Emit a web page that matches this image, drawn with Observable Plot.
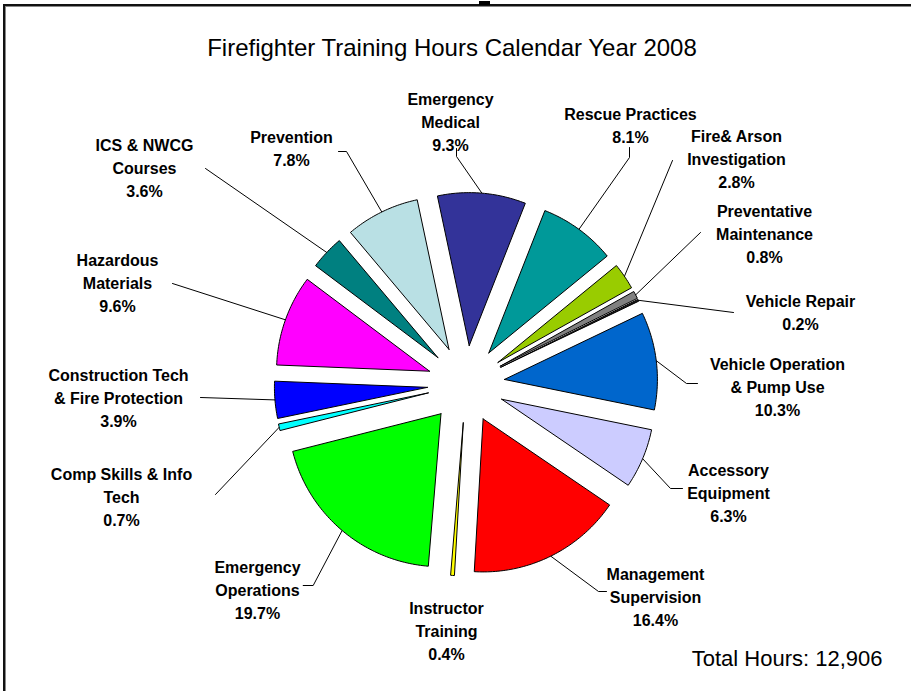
<!DOCTYPE html>
<html><head><meta charset="utf-8">
<script src="https://cdn.jsdelivr.net/npm/d3@7"></script>
<script src="https://cdn.jsdelivr.net/npm/@observablehq/plot@0.6"></script>
<style>
body{margin:0;background:#fff;font-family:"Liberation Sans",Arial,sans-serif;}
#wrap{position:relative;width:911px;height:691px;overflow:hidden;}
#frame{position:absolute;left:3px;top:4px;width:1000px;height:1000px;border-left:2px solid #111;border-top:2px solid #111;box-shadow:1px 1px 0 #888 inset;}
#tick{position:absolute;left:479px;top:1px;width:11px;height:4px;background:#000;}
#title{position:absolute;left:0;top:34.6px;width:904px;text-align:center;font-size:24px;line-height:26px;color:#000;}
#chart{position:absolute;left:0;top:70px;}
</style></head>
<body><div id="wrap"><div id="frame"></div><div id="tick"></div>
<div id="title">Firefighter Training Hours Calendar Year 2008</div>
<div id="chart"></div></div>
<script>
const categories = ["Emergency Medical","Rescue Practices","Fire& Arson Investigation","Preventative Maintenance","Vehicle Repair","Vehicle Operation & Pump Use","Accessory Equipment","Management Supervision","Instructor Training","Emergency Operations","Comp Skills & Info Tech","Construction Tech & Fire Protection","Hazardous Materials","ICS & NWCG Courses","Prevention"];
const percents = [9.3, 8.1, 2.8, 0.8, 0.2, 10.3, 6.3, 16.4, 0.4, 19.7, 0.7, 3.9, 9.6, 3.6, 7.8];
const labelText = [
  ["Emergency","Medical"],["Rescue Practices"],["Fire& Arson","Investigation"],["Preventative","Maintenance"],
  ["Vehicle Repair"],["Vehicle Operation","& Pump Use"],["Accessory","Equipment"],["Management","Supervision"],
  ["Instructor","Training"],["Emergency","Operations"],["Comp Skills & Info","Tech"],["Construction Tech","& Fire Protection"],
  ["Hazardous","Materials"],["ICS & NWCG","Courses"],["Prevention"]
];
const totalText = "Total Hours: 12,906";

// layout (not data)
const colors = ["#333399","#009999","#99CC00","#808080","#1a1a1a","#0066CC","#CCCCFF","#FF0000","#FFFF00","#00FF00","#00FFFF","#0000FF","#FF00FF","#008080","#B9E0E4"];
const CX = 465.5, CY = 383.7, R = 153, EXPLODE = 38.7, START = -12;
const labelAt = [[450,120],[630,124],[736,157],[764,232],[800,311],[777,385],[728,491],[655,595],[446,629],[257,588],[121,495],[118,396],[117,281],[144,166],[291,147]];
const leaderTo = [[[456,156],[456,148]],[[629,157],[629,147]],[[672,160]],[[700,232]],[[733,312]],[[686,383],[697,383]],[[670,488],[682,488]],[[598,591],[606,591]],[],[[312.7,585],[302.7,585]],[[215,494]],[[200,397]],[[172,283]],[[205,168]],[[346,151],[338,151]]];

const rad = Math.PI/180;
const arcs = d3.pie().sort(null).value(d => d).startAngle(START*rad).endAngle((START+360)*rad)(percents);

const slicePts = [], leaderPts = [], labels = [];
arcs.forEach((a, i) => {
  const m = (a.startAngle + a.endAngle)/2;
  const ox = CX + EXPLODE*Math.sin(m), oy = CY - EXPLODE*Math.cos(m);
  const n = Math.max(2, Math.ceil((a.endAngle - a.startAngle)/rad));
  slicePts.push({k:i, x:ox, y:oy, c:colors[i]});
  for (let j = 0; j <= n; j++) {
    const t = a.startAngle + (a.endAngle - a.startAngle)*j/n;
    slicePts.push({k:i, x:ox + R*Math.sin(t), y:oy - R*Math.cos(t), c:colors[i]});
  }
  slicePts.push({k:i, x:ox, y:oy, c:colors[i]});
  if (leaderTo[i].length) {
    leaderPts.push({k:i, x:ox + R*Math.sin(m), y:oy - R*Math.cos(m)});
    leaderTo[i].forEach(p => leaderPts.push({k:i, x:p[0], y:p[1]}));
  }
  labels.push({x:labelAt[i][0], y:labelAt[i][1], t:[...labelText[i], percents[i].toFixed(1)+"%"].join("\n")});
});

const chart = Plot.plot({
  width: 911, height: 621,
  marginTop: 0, marginRight: 0, marginBottom: 0, marginLeft: 0,
  x: {domain:[0,911], range:[0,911], axis:null},
  y: {domain:[70,691], range:[0,621], axis:null},
  color: {type:"identity"},
  style: {fontFamily:"'Liberation Sans', Arial, sans-serif", background:"transparent"},
  marks: [
    Plot.line(leaderPts, {x:"x", y:"y", z:"k", stroke:"#000", strokeWidth:1}),
    Plot.line(slicePts, {x:"x", y:"y", z:"k", fill:"c", stroke:"#000", strokeWidth:1, strokeLinejoin:"miter"}),
    Plot.text(labels, {x:"x", y:"y", text:"t", fontSize:16, fontWeight:"bold", lineHeight:1.44, fill:"#000", textAnchor:"middle", lineAnchor:"middle"}),
    Plot.text([totalText], {frameAnchor:"bottom-right", dx:-29, dy:-26, fontSize:22, fill:"#000", textAnchor:"end", lineAnchor:"bottom"})
  ]
});
document.getElementById("chart").appendChild(chart);
</script></body></html>
